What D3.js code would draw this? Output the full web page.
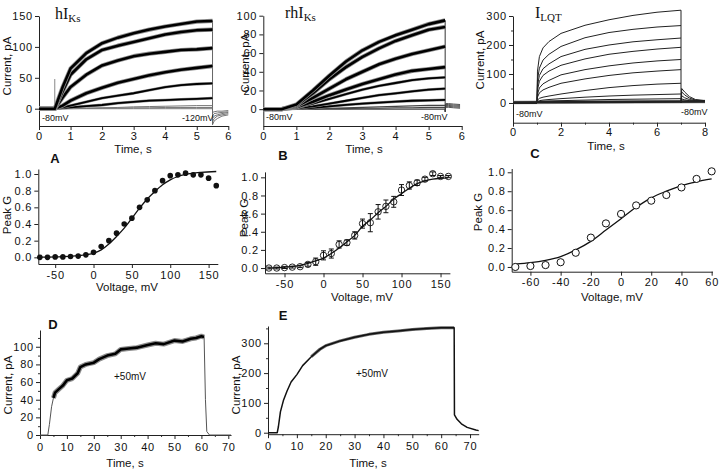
<!DOCTYPE html>
<html><head><meta charset="utf-8">
<script src="https://cdn.jsdelivr.net/npm/d3@7"></script>
<style>
body{margin:0;background:#fff}
svg{display:block}
</style></head><body>
<svg id="c" width="720" height="471"></svg>
<script>
// ---------- DATA ----------
// Panel hIKs (top left): time (s) and current (pA)
const hTime = [0, 0.5, 0.75, 1, 1.5, 2, 2.5, 3, 3.5, 4, 4.5, 5, 5.5];
const hTraces = [
  [0, 0, 35, 65, 90, 106, 115, 122, 128, 133, 137, 141, 142],
  [0, 0, 28, 55, 80, 95, 102, 108, 114, 120, 124, 127, 128],
  [0, 0, 18, 35, 55, 70, 78, 85, 89, 92, 95, 96, 98],
  [0, 0, 5, 13, 25, 34, 42, 48, 54, 59, 63, 66, 69],
  [0, 0, 2, 5, 11, 17, 21, 25, 30, 35, 38, 40, 41],
  [0, 0, 1, 2, 4, 6, 9, 11, 13, 14, 15, 16, 17],
  [0, 0, 0, 0.5, 1, 1.5, 2, 3, 3.5, 4, 4.5, 5, 5],
  [0, 0, 0, 0, 0.5, 1, 1, 1.5, 1.5, 2, 2, 2, 2],
  [0, 0, 0, 0, 0, 0, 0, 0, 0, 0, 0, 0, 0]
];
const hArtTime = [0.5, 0.5];
const hArtifact = [0, 48];
const hTailTime = [5.5, 5.55, 5.65, 5.8, 6.0];
const hTails = [
  [-26, -20, -16, -12, -10],
  [-21, -16, -12, -10, -8],
  [-16, -12, -10, -8, -6],
  [-11, -8, -7, -6, -5],
  [-6, -5, -4, -4, -3]
];

// Panel rhIKs (top middle)
const rTime = [0, 0.55, 1, 1.5, 2, 2.5, 3, 3.5, 4, 4.5, 5, 5.5];
const rTraces = [
  [0, 0, 5, 20, 36, 51, 63, 72, 79, 85, 91, 95],
  [0, 0, 4, 17, 32, 45, 56, 65, 73, 79, 85, 88],
  [0, 0, 3, 12, 22, 32, 40, 48, 54, 59, 63, 67],
  [0, 0, 2, 8, 15, 21, 27, 32, 37, 41, 43, 45],
  [0, 0, 1.5, 6, 11, 16, 21, 25, 28, 31, 33, 34],
  [0, 0, 1, 3, 6, 9, 12, 15, 17, 19, 21, 22],
  [0, 0, 0.5, 1.5, 3, 4.5, 6, 7, 8, 9, 9.5, 10],
  [0, 0, 0, 0.5, 1, 1.5, 2, 2.5, 3, 3.5, 4, 4],
  [0, 0, 0, 0, 0.5, 0.5, 1, 1, 1.5, 1.5, 2, 2],
  [0, 0, 0, 0, 0, 0, 0, 0, 0, 0, 0, 0]
];
const rTailTime = [5.5, 5.52, 5.6, 5.75, 5.95];
const rTails = [
  [-3, 6, 6, 5.5, 5],
  [-3, 5, 5, 4.5, 4],
  [-2, 4, 4, 3.5, 3],
  [-2, 3, 3, 2.5, 2],
  [-1, 2, 2, 1.5, 1]
];

// Panel ILQT (top right)
const lTime = [0, 1, 1.02, 1.1, 1.25, 1.5, 2, 3, 4, 5, 6, 7];
const lTraces = [
  [0, 0, 110, 160, 190, 212, 240, 268, 287, 302, 313, 320],
  [0, 0, 80, 120, 148, 168, 195, 225, 243, 254, 262, 267],
  [0, 0, 60, 95, 118, 135, 160, 185, 200, 211, 218, 224],
  [0, 0, 45, 75, 95, 110, 130, 152, 168, 178, 186, 192],
  [0, 0, 30, 52, 66, 78, 97, 115, 128, 138, 145, 150],
  [0, 0, 20, 35, 45, 54, 68, 83, 95, 104, 110, 115],
  [0, 0, 10, 16, 20, 24, 31, 43, 53, 60, 65, 68],
  [0, 0, 5, 8, 10, 12, 15, 20, 24, 27, 29, 31],
  [0, 0, 3, 5, 6, 7, 8, 10, 12, 13, 14, 15],
  [0, 0, 2, 3, 3, 3, 4, 4, 5, 5, 5, 5]
];
const lBaseTime = [0, 8];
const lBase = [2, 5];
const lTailTime = [7, 7.03, 7.15, 7.35, 7.6, 8];
const lTails = [
  [0, 50, 38, 22, 12, 8],
  [0, 38, 28, 17, 10, 7],
  [0, 25, 18, 12, 8, 6],
  [0, 14, 11, 8, 6, 5]
];

// Panel A
const voltA = [-70,-60,-50,-40,-30,-20,-10,0,10,20,30,40,50,60,70,80,90,100,110,120,130,140,150,160];
const gA = [0,0,0.005,0.005,0.01,0.015,0.03,0.06,0.13,0.2,0.29,0.4,0.47,0.6,0.69,0.8,0.92,0.98,0.99,1.01,0.99,0.99,0.95,0.86];
const fitVA = [-70,-40,-20,0,10,20,30,40,50,60,70,80,90,100,110,120,140,160];
const fitGA = [0.002,0.008,0.02,0.05,0.09,0.16,0.25,0.35,0.47,0.59,0.7,0.79,0.87,0.93,0.97,0.995,1.02,1.03];

// Panel B
const voltB = [-70,-60,-50,-40,-30,-20,-10,0,10,20,30,40,50,60,70,80,90,100,110,120,130,140,150,160];
const gB = [0,0,0.005,0.01,0.015,0.04,0.07,0.14,0.16,0.26,0.28,0.36,0.49,0.5,0.62,0.68,0.73,0.86,0.91,0.94,0.98,1.04,1.01,1.01];
const errB = [0.01,0.01,0.01,0.01,0.01,0.02,0.04,0.05,0.05,0.04,0.03,0.04,0.05,0.1,0.08,0.07,0.06,0.06,0.04,0.03,0.02,0.02,0.01,0.01];
const fitVB = [-70,-50,-30,-10,0,10,20,30,40,50,60,70,80,90,100,110,120,130,140,150,160];
const fitGB = [0.0,0.01,0.03,0.08,0.11,0.16,0.22,0.29,0.36,0.46,0.53,0.61,0.68,0.76,0.82,0.88,0.93,0.96,0.98,0.99,0.995];

// Panel C
const voltC = [-70,-60,-50,-40,-30,-20,-10,0,10,20,30,40,50,60];
const gC = [0.0,0.01,0.02,0.05,0.15,0.31,0.46,0.56,0.65,0.7,0.76,0.84,0.93,1.01];
const fitVC = [-70,-60,-50,-40,-30,-20,-10,0,10,20,30,40,50,60];
const fitGC = [0.03,0.045,0.07,0.11,0.18,0.27,0.39,0.51,0.63,0.73,0.8,0.86,0.9,0.93];

// Panel D
const tD = [0, 2.9, 3.5, 4.3, 5, 5.6, 7, 8.5, 10, 12, 14, 15, 17, 20, 22, 25, 28, 30, 33, 36, 40, 43, 46, 50, 53, 56, 58, 60, 61, 61.5, 62, 63, 71];
const vD = [0, 0, 12, 32, 42, 48, 52, 56, 62, 64, 70, 77, 80, 82, 86, 90, 92, 97, 98, 99, 102, 104, 103, 107, 106, 109, 110, 112, 111, 40, 4, 0, 0];

// Panel E
const tE = [0, 3.2, 3.6, 4.3, 5.4, 6.6, 8, 10, 12, 15, 18, 20, 25, 30, 35, 40, 45, 50, 55, 60, 64.5, 64.6, 65.5, 67, 69, 72, 73];
const vE = [0, 0, 20, 70, 110, 140, 170, 195, 225, 255, 280, 292, 308, 320, 330, 337, 341, 346, 350, 352, 352, 60, 45, 30, 18, 9, 7];

// Tick values
const ticksTopH = [0,1,2,3,4,5,6];
const ticksTopL = [0,2,4,6,8];
const ticksV = [-50,0,50,100,150];
const ticksVC = [-60,-40,-20,0,20,40,60];
const ticksG = [0,0.2,0.4,0.6,0.8,1.0];
const ticksTimeLong = [0,10,20,30,40,50,60,70];

// ---------- DRAWING ----------
const svg = d3.select("#c");
const FONT = '"Liberation Sans",Arial,sans-serif';
const SERIF = '"Liberation Serif","Times New Roman",serif';

function panel(o) {
  const x = d3.scaleLinear().domain(o.xd).range(o.xr);
  const y = d3.scaleLinear().domain(o.yd).range(o.yr);
  const g = svg.append("g");
  const styleAxis = s => {
    s.attr("font-family", FONT).attr("font-size", 11);
    s.selectAll(".domain").attr("stroke", "#222").attr("stroke-width", 1);
    s.selectAll(".tick line").attr("stroke", "#222");
    s.selectAll(".tick text").attr("fill", "#111").attr("letter-spacing", 0.8);
  };
  if (o.xMinor) g.append("g").attr("transform", `translate(0,${o.yr[0]})`)
      .call(d3.axisBottom(x).tickValues(o.xMinor).tickSize(2).tickFormat(""))
      .call(s => { s.select(".domain").remove(); s.selectAll("line").attr("stroke", "#333"); });
  if (o.yMinor) g.append("g").attr("transform", `translate(${o.xr[0]},0)`)
      .call(d3.axisLeft(y).tickValues(o.yMinor).tickSize(2).tickFormat(""))
      .call(s => { s.select(".domain").remove(); s.selectAll("line").attr("stroke", "#333"); });
  g.append("g").attr("transform", `translate(0,${o.yr[0]})`)
    .call(d3.axisBottom(x).tickValues(o.xTicks).tickFormat(o.xFmt).tickSize(4).tickSizeOuter(0).tickPadding(o.xPad))
    .call(styleAxis);
  g.append("g").attr("transform", `translate(${o.xr[0]},0)`)
    .call(d3.axisLeft(y).tickValues(o.yTicks).tickFormat(o.yFmt).tickSize(4).tickSizeOuter(0).tickPadding(2))
    .call(styleAxis);
  return {x, y, g};
}
const intFmt = d => String(d);
const g1Fmt = d => d.toFixed(1);

function txt() { return svg.append("text").attr("font-family", FONT).attr("fill", "#111"); }
function ylab(t, x, y) {
  txt().attr("transform", `translate(${x},${y}) rotate(-90)`)
    .attr("text-anchor", "middle").attr("font-size", 11.5).text(t);
}
function xlab(t, x, y) {
  txt().attr("x", x).attr("y", y).attr("text-anchor", "middle").attr("font-size", 11.5).text(t);
}
function small(t, x, y, anchor, size) {
  txt().attr("x", x).attr("y", y).attr("text-anchor", anchor || "start").attr("font-size", size || 9).text(t);
}
function letter(t, x, y) {
  txt().attr("x", x).attr("y", y).attr("text-anchor", "middle")
    .attr("font-size", 13).attr("font-weight", "bold").text(t);
}
function title(main, sub, x, y) {
  const t = svg.append("text").attr("x", x).attr("y", y)
    .attr("font-family", SERIF).attr("font-size", 16).attr("fill", "#111");
  t.append("tspan").text(main);
  t.append("tspan").attr("font-size", 11).attr("dy", 3).text(sub);
}
function trace(p, ts, vs, stroke, width, halo, haloW) {
  const data = ts.map((t, i) => [t, vs[i]]);
  const line = d3.line().x(d => p.x(d[0])).y(d => p.y(d[1]));
  if (halo) p.g.append("path").attr("d", line(data)).attr("fill", "none")
      .attr("stroke", halo).attr("stroke-width", haloW).attr("stroke-linejoin", "round");
  p.g.append("path").attr("d", line(data)).attr("fill", "none")
    .attr("stroke", stroke).attr("stroke-width", width).attr("stroke-linejoin", "round");
}
function smooth(p, xs, ys, width) {
  const data = xs.map((v, i) => [v, ys[i]]);
  const line = d3.line().curve(d3.curveMonotoneX).x(d => p.x(d[0])).y(d => p.y(d[1]));
  p.g.append("path").attr("d", line(data)).attr("fill", "none")
    .attr("stroke", "#111").attr("stroke-width", width || 1.3);
}

// ---- Top left: hIKs
const p1 = panel({xd:[0,6], xr:[39,228.3], yd:[-28,150], yr:[126,16],
  xTicks: ticksTopH, xMinor: null, yTicks:[0,50,100,150], yMinor:null,
  xFmt:intFmt, yFmt:intFmt, xPad:2});
trace(p1, hArtTime, hArtifact, "#888", 1);
hTails.forEach(v => trace(p1, hTailTime, v, "#777", 1));
trace(p1, [hTailTime[0], hTailTime[0]], [hTraces[0][hTraces[0].length-1], hTails[0][0]], "#666", 1);
hTraces.slice().reverse().forEach((v, i) => {
  const k = hTraces.length - 1 - i;
  if (k < 6) trace(p1, hTime, v, "#000", k < 4 ? 2.6 : 1.8, "#8c8c8c", k < 4 ? 4.2 : 2.8);
  else trace(p1, hTime, v, "#777", 1);
});
title("hI", "Ks", 55, 19);
ylab("Current, pA", 11, 66);
xlab("Time, s", 133, 153);
small("-80mV", 42, 121);
small("-120mV", 182, 121);

// ---- Top middle: rhIKs
const p2 = panel({xd:[0,6], xr:[263.3,461.7], yd:[-18,100], yr:[126,15.7],
  xTicks: ticksTopH, yTicks:[0,20,40,60,80,100], xFmt:intFmt, yFmt:intFmt, xPad:2});
rTails.forEach(v => trace(p2, rTailTime, v, "#555", 1));
trace(p2, [rTailTime[0], rTailTime[0]], [rTraces[0][rTraces[0].length-1], rTails[0][0]], "#333", 1);
rTraces.slice().reverse().forEach((v, i) => {
  const k = rTraces.length - 1 - i;
  if (k < 7) trace(p2, rTime, v, "#000", k < 4 ? 2.6 : 1.8, "#8c8c8c", k < 4 ? 4.2 : 2.8);
  else trace(p2, rTime, v, "#444", 1.2);
});
title("rhI", "Ks", 285, 18);
ylab("Current, pA", 249, 63);
xlab("Time, s", 364, 153);
small("-80mV", 266, 120);
small("-80mV", 421, 120);

// ---- Top right: ILQT
const p3 = panel({xd:[0,8], xr:[513,705], yd:[-68,300], yr:[122.7,16],
  xTicks: ticksTopL, xMinor:[1,3,5,7], yTicks:[0,100,200,300], yMinor:[50,150,250],
  xFmt:intFmt, yFmt:intFmt, xPad:2});
trace(p3, lBaseTime, lBase, "#222", 2.4, "#999", 3.5);
lTails.forEach(v => trace(p3, lTailTime, v, "#222", 1));
trace(p3, [lTailTime[0], lTailTime[0]], [lTraces[0][lTraces[0].length-1], 0], "#222", 1);
lTraces.forEach(v => trace(p3, lTime, v, "#222", 1));
title("I", "LQT", 535, 18);
ylab("Current, pA", 484, 60);
xlab("Time, s", 606, 150);
small("-80mV", 516, 117);
small("-80mV", 681, 115);

// ---- A
const p4 = panel({xd:[-72,162], xr:[38.3,217.8], yd:[-0.08,1.06], yr:[264,169],
  xTicks: ticksV, yTicks: ticksG, xFmt:intFmt, yFmt:g1Fmt, xPad:3});
smooth(p4, fitVA, fitGA, 1.3);
p4.g.selectAll("circle.a").data(voltA).join("circle")
  .attr("cx", (d) => p4.x(d)).attr("cy", (d, i) => p4.y(gA[i])).attr("r", 2.8).attr("fill", "#111");
letter("A", 55, 163);
ylab("Peak G", 11, 215);
xlab("Voltage, mV", 127, 291);

// ---- B
const p5 = panel({xd:[-75,162], xr:[265,449.9], yd:[-0.058,1.06], yr:[273.3,171.9],
  xTicks: ticksV, yTicks: ticksG, xFmt:intFmt, yFmt:g1Fmt, xPad:3});
smooth(p5, fitVB, fitGB, 1.3);
voltB.forEach((v, i) => {
  const cx = p5.x(v), y0 = p5.y(gB[i] - errB[i]), y1 = p5.y(gB[i] + errB[i]);
  p5.g.append("line").attr("x1", cx).attr("x2", cx).attr("y1", y0).attr("y2", y1).attr("stroke", "#111").attr("stroke-width", 1);
  [y0, y1].forEach(yy => p5.g.append("line").attr("x1", cx - 2.5).attr("x2", cx + 2.5).attr("y1", yy).attr("y2", yy).attr("stroke", "#111"));
});
p5.g.selectAll("circle.b").data(voltB).join("circle")
  .attr("cx", d => p5.x(d)).attr("cy", (d, i) => p5.y(gB[i])).attr("r", 3.2)
  .attr("fill", "none").attr("stroke", "#111").attr("stroke-width", 0.9);
letter("B", 283, 160);
ylab("Peak G", 248, 218);
xlab("Voltage, mV", 362, 301);

// ---- C
const p6 = panel({xd:[-72.4,60.5], xr:[511.7,712.4], yd:[-0.05,1.04], yr:[271.7,168.5],
  xTicks: ticksVC, yTicks: ticksG, xFmt:intFmt, yFmt:g1Fmt, xPad:3});
smooth(p6, fitVC, fitGC, 1.3);
p6.g.selectAll("circle.c").data(voltC).join("circle")
  .attr("cx", d => p6.x(d)).attr("cy", (d, i) => p6.y(gC[i])).attr("r", 3.6)
  .attr("fill", "#fff").attr("stroke", "#111").attr("stroke-width", 1);
letter("C", 535, 158);
ylab("Peak G", 482, 212);
xlab("Voltage, mV", 612, 301);

// ---- D
const p7 = panel({xd:[0,71], xr:[40,231], yd:[0,119], yr:[435,330],
  xTicks: ticksTimeLong, xMinor:[5,15,25,35,45,55,65], yTicks:[0,20,40,60,80,100], yMinor:[10,30,50,70,90,110],
  xFmt:intFmt, yFmt:intFmt, xPad:4});
trace(p7, tD, vD, "#555", 1);
const dIdx = tD.map((t, i) => i).filter(i => tD[i] >= 5 && tD[i] <= 61);
trace(p7, dIdx.map(i => tD[i]), dIdx.map(i => vD[i]), "#000", 2.6, "#8c8c8c", 5);
letter("D", 53, 329);
ylab("Current, pA", 12, 385);
xlab("Time, s", 125, 467);
small("+50mV", 130, 380, "middle", 10);

// ---- E
const p8 = panel({xd:[0,73], xr:[268,478.7], yd:[-5,358], yr:[434.2,326],
  xTicks: ticksTimeLong, xMinor:[5,15,25,35,45,55,65], yTicks:[0,100,200,300], yMinor:[50,150,250,350],
  xFmt:intFmt, yFmt:intFmt, xPad:4});
const eIdx = tE.map((t, i) => i).filter(i => tE[i] >= 15 && tE[i] <= 64.5);
trace(p8, eIdx.map(i => tE[i]), eIdx.map(i => vE[i]), "#666", 3);
trace(p8, tE, vE, "#111", 1.5);
letter("E", 283, 320);
ylab("Current, pA", 240, 385);
xlab("Time, s", 368, 467);
small("+50mV", 372, 377, "middle", 10);
</script>
</body></html>
